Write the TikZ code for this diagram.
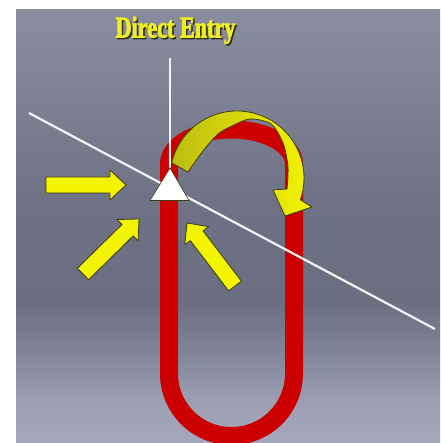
\documentclass[tikz,border=0pt]{standalone}
\usepackage{fontspec}
\newfontfamily\titlefont{Liberation Serif}[FakeStretch=0.74, FakeBold=2.5]
\usetikzlibrary{calc}
\definecolor{skyTop}{HTML}{8A8CA0}
\definecolor{skyUp}{HTML}{7E8094}
\definecolor{skyDark}{HTML}{6B6D80}
\definecolor{skyDarkB}{HTML}{6F7184}
\definecolor{skyMid}{HTML}{808396}
\definecolor{skyLow}{HTML}{9C9FB2}
\definecolor{skyBot}{HTML}{A5A8BA}
\definecolor{loopRed}{HTML}{CC0000}
\definecolor{arrowYellow}{HTML}{F4F400}
\definecolor{arrowOlive}{HTML}{BDBD12}
\definecolor{arrowEdge}{HTML}{3C3C14}
\definecolor{lineWhite}{HTML}{F4F4F4}
\definecolor{titleYellow}{HTML}{EEEE22}
\definecolor{titleShadow}{HTML}{2E2E10}
\pgfdeclareverticalshading{skyshade}{100bp}{color(0bp)=(skyBot); color(25bp)=(skyBot);
  color(30bp)=(skyLow); color(35.7bp)=(skyMid); color(41.5bp)=(skyDark);
  color(53bp)=(skyDarkB); color(64.6bp)=(skyUp); color(75bp)=(skyTop); color(100bp)=(skyTop)}
\newcommand{\shadowtext}[1]{\makebox[0pt][l]{\kern1.5pt\raisebox{-1.5pt}{\color{titleShadow}#1}}#1}
\tikzset{
  yarrow/.style={fill=arrowYellow, draw=arrowEdge, line width=0.8pt, line join=round},
  wline/.style={lineWhite, line width=2.2pt},
  titletext/.style={font=\titlefont\bfseries\fontsize{30}{30}\selectfont, text=titleYellow, inner sep=0pt},
}

\begin{document}
\begin{tikzpicture}[x=1pt, y=-1pt]
    \useasboundingbox (0,0) rectangle (440,443);
    \fill[white] (0,0) rectangle (440,443);
    \shade[shading=skyshade] (16,10) rectangle (440,443);

    % holding pattern
    \draw[loopRed, line width=18pt]
        (169,164) arc[start angle=180, end angle=360, x radius=62.5, y radius=34.5]
        -- (294,373.5) arc[start angle=0, end angle=180, radius=62.5] -- cycle;

    % fix, inbound course and sector line
    \coordinate (fix) at (170,168);
    \coordinate (fixTop) at (170,58);
    \coordinate (sectorA) at (29,113);
    \coordinate (sectorB) at (435,329);
    \draw[wline] (fixTop) -- (fix);
    \draw[wline] (sectorA) -- (sectorB);

    % entry arrows
    \coordinate (inW) at (46,185);
    \coordinate (tipW) at (126,185);
    \coordinate (inSW) at (83,274);
    \coordinate (tipSW) at (139,219);
    \coordinate (inSE) at (235,286);
    \coordinate (tipSE) at (187,223);
    \foreach \a/\b in {inW/tipW, inSW/tipSW, inSE/tipSE}{
        \coordinate (h) at ($(\b)!16pt!(\a)$);
        \fill[yarrow] ($(\a)!8pt!90:(\b)$) -- ($(h)!8pt!90:(\b)$) -- ($(h)!15pt!90:(\b)$)
            -- (\b) -- ($(h)!15pt!-90:(\b)$) -- ($(h)!8pt!-90:(\b)$) -- ($(\a)!8pt!-90:(\b)$) -- cycle;
    }

    % turn over the fix
    \shade[yarrow, left color=arrowOlive, right color=arrowYellow]
        (171.7,162.9) arc[start angle=193, end angle=379, radius=67]
        -- (312,207) -- (285,216) -- (273,190) -- (287,189)
        -- plot[smooth] coordinates {(287,189) (288,167) (283,143) (271,124) (250,119)
            (232,126) (218,134) (203,151) (188,172)} -- cycle;

    % fix marker
    \fill[white, draw=arrowEdge, line width=0.6pt] (fix) -- (150,200.5) -- (189,200.5) -- cycle;

    \node[titletext] (title) at (175.5,31) {\shadowtext{Direct Entry}};
\end{tikzpicture}
\end{document}
